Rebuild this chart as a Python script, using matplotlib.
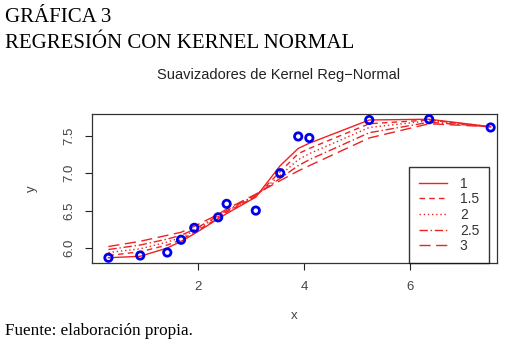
import matplotlib
matplotlib.use("Agg")
import matplotlib.pyplot as plt

# observed data
x_obs = [0.31, 0.91, 1.42, 1.68, 1.93, 2.38, 2.54, 3.09, 3.55, 3.89, 4.10, 5.23, 6.36, 7.52]
y_obs = [5.87, 5.90, 5.94, 6.11, 6.27, 6.41, 6.59, 6.50, 7.00, 7.49, 7.47, 7.71, 7.72, 7.61]

# kernel (normal) smoothers for each bandwidth, evaluated at x_obs
bandwidths = ["1", "1.5", "2", "2.5", "3"]
fit_bw1 = [5.87, 5.89, 6.00, 6.09, 6.19, 6.39, 6.46, 6.68, 7.10, 7.33, 7.40, 7.71, 7.72, 7.62]
fit_bw15 = [5.90, 5.95, 6.04, 6.11, 6.21, 6.40, 6.48, 6.69, 7.02, 7.26, 7.33, 7.66, 7.71, 7.62]
fit_bw2 = [5.94, 5.99, 6.08, 6.14, 6.23, 6.42, 6.49, 6.70, 6.97, 7.18, 7.26, 7.61, 7.70, 7.62]
fit_bw25 = [5.98, 6.04, 6.12, 6.17, 6.25, 6.43, 6.50, 6.71, 6.93, 7.10, 7.18, 7.54, 7.68, 7.62]
fit_bw3 = [6.02, 6.09, 6.17, 6.21, 6.29, 6.45, 6.52, 6.72, 6.90, 7.03, 7.10, 7.47, 7.66, 7.62]
fits = [fit_bw1, fit_bw15, fit_bw2, fit_bw25, fit_bw3]

styles = ["-", (0, (4, 3)), (0, (1, 2)), (0, (6, 2, 1, 2)), (0, (8, 4))]

fig = plt.figure(figsize=(5.21, 3.48), dpi=100)
fig.patch.set_facecolor("white")

serif = "Liberation Serif"
sans = "Liberation Sans"

fig.text(0.010, 1 - 18 / 348, "GRÁFICA 3", family=serif, fontsize=15, va="center", ha="left")
fig.text(0.010, 1 - 44 / 348, "REGRESIÓN CON KERNEL NORMAL", family=serif, fontsize=15, va="center", ha="left")
fig.text(0.010, 1 - 331 / 348, "Fuente: elaboración propia.", family=serif, fontsize=12.3, va="center", ha="left")
fig.text(279 / 521, 1 - 75 / 348, "Suavizadores de Kernel Reg\u2212Normal", family=sans,
         fontsize=10.5, va="center", ha="center", color="#222222")

ax = fig.add_axes([92 / 521, 1 - 263 / 348, 405 / 521, 149 / 348])

for fit, ls, lab in zip(fits, styles, bandwidths):
    ax.plot(x_obs, fit, color="#ee2222", linestyle=ls, linewidth=1.0, label=lab)

ax.scatter(x_obs, y_obs, s=28, facecolors="none", edgecolors="#0000ee", linewidths=2.0, zorder=5)

ax.set_xlim(0.0, 7.64)
ax.set_ylim(5.80, 7.79)
ax.set_xticks([2, 4, 6])
ax.set_yticks([6.0, 6.5, 7.0, 7.5])
ax.set_yticklabels(["6.0", "6.5", "7.0", "7.5"], rotation=90, va="center")
ax.tick_params(labelsize=9.5, length=5, width=0.8, colors="#222222", labelcolor="#444444")
ax.tick_params(axis="y", pad=7)
ax.tick_params(axis="x", pad=8)
for lbl in ax.get_xticklabels() + ax.get_yticklabels():
    lbl.set_family(sans)

for sp in ax.spines.values():
    sp.set_linewidth(0.9)
    sp.set_color("#333333")

ax.set_xlabel("x", family=sans, fontsize=9.5, color="#444444", labelpad=12)
ax.set_ylabel("y", family=sans, fontsize=9.5, color="#444444", labelpad=18)

leg = ax.legend(loc="lower right", bbox_to_anchor=(0.98, 0.0), frameon=True, fancybox=False,
                prop={"family": sans, "size": 10}, handlelength=2.0, borderpad=0.7,
                labelspacing=0.12, handletextpad=0.95, borderaxespad=0)
leg.get_frame().set_edgecolor("black")
leg.get_frame().set_linewidth(1.0)
for t in leg.get_texts():
    t.set_color("#333333")

fig.savefig("out.png", dpi=100, facecolor="white")
